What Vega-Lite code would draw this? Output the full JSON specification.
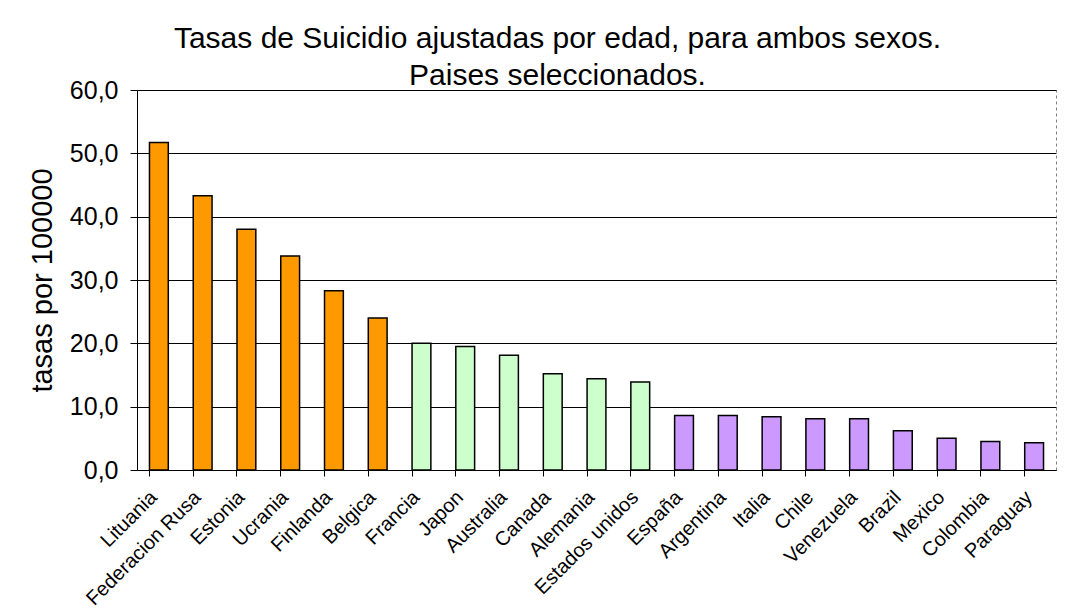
{
  "$schema": "https://vega.github.io/schema/vega-lite/v6.json",
  "width": 919,
  "height": 380,
  "autosize": {"type": "none"},
  "padding": {"left": 137, "top": 90, "right": 25, "bottom": 142},
  "background": "white",
  "title": {
    "text": ["Tasas de Suicidio ajustadas por edad, para ambos sexos.", "Paises seleccionados."],
    "anchor": "middle",
    "frame": "group",
    "dx": -39,
    "offset": -13,
    "fontSize": 30,
    "lineHeight": 37,
    "font": "Liberation Sans",
    "fontWeight": "normal",
    "color": "black"
  },
  "config": {
    "view": {"stroke": "#808080", "strokeDash": [3, 3], "strokeWidth": 1},
    "font": "Liberation Sans"
  },
  "data": {
    "values": [
      {"pais": "Lituania", "tasa": 51.7, "grupo": "alto"},
      {"pais": "Federacion Rusa", "tasa": 43.3, "grupo": "alto"},
      {"pais": "Estonia", "tasa": 38.0, "grupo": "alto"},
      {"pais": "Ucrania", "tasa": 33.8, "grupo": "alto"},
      {"pais": "Finlanda", "tasa": 28.3, "grupo": "alto"},
      {"pais": "Belgica", "tasa": 24.0, "grupo": "alto"},
      {"pais": "Francia", "tasa": 20.0, "grupo": "medio"},
      {"pais": "Japon", "tasa": 19.5, "grupo": "medio"},
      {"pais": "Australia", "tasa": 18.1, "grupo": "medio"},
      {"pais": "Canada", "tasa": 15.2, "grupo": "medio"},
      {"pais": "Alemania", "tasa": 14.4, "grupo": "medio"},
      {"pais": "Estados unidos", "tasa": 13.9, "grupo": "medio"},
      {"pais": "España", "tasa": 8.6, "grupo": "bajo"},
      {"pais": "Argentina", "tasa": 8.6, "grupo": "bajo"},
      {"pais": "Italia", "tasa": 8.4, "grupo": "bajo"},
      {"pais": "Chile", "tasa": 8.1, "grupo": "bajo"},
      {"pais": "Venezuela", "tasa": 8.1, "grupo": "bajo"},
      {"pais": "Brazil", "tasa": 6.2, "grupo": "bajo"},
      {"pais": "Mexico", "tasa": 5.0, "grupo": "bajo"},
      {"pais": "Colombia", "tasa": 4.5, "grupo": "bajo"},
      {"pais": "Paraguay", "tasa": 4.3, "grupo": "bajo"}
    ]
  },
  "mark": {"type": "bar", "stroke": "black", "strokeWidth": 1.5},
  "encoding": {
    "x": {
      "field": "pais",
      "type": "nominal",
      "sort": null,
      "scale": {"paddingInner": 0.57, "paddingOuter": 0.285},
      "axis": {
        "title": null,
        "labelAngle": -45,
        "labelAlign": "right",
        "labelBaseline": "middle",
        "labelFontSize": 20,
        "labelColor": "black",
        "labelPadding": 18,
        "labelLimit": 300,
        "domainColor": "black",
        "tickColor": "black",
        "tickSize": 6,
        "bandPosition": 0,
        "labelOffset": -5
      }
    },
    "y": {
      "field": "tasa",
      "type": "quantitative",
      "scale": {"domain": [0, 60], "nice": false},
      "axis": {
        "title": "tasas por 100000",
        "titleFontSize": 29,
        "titleFontWeight": "normal",
        "titleColor": "black",
        "titlePadding": 12,
        "values": [0, 10, 20, 30, 40, 50, 60],
        "labelExpr": "replace(format(datum.value, '.1f'), '.', ',')",
        "labelFontSize": 25,
        "labelColor": "black",
        "labelPadding": 12,
        "tickSize": 7,
        "tickColor": "black",
        "domainColor": "black",
        "gridColor": "black",
        "gridOpacity": 1
      }
    },
    "color": {
      "field": "grupo",
      "type": "nominal",
      "scale": {"domain": ["alto", "medio", "bajo"], "range": ["#FF9900", "#CCFFCC", "#CC99FF"]},
      "legend": null
    }
  }
}
